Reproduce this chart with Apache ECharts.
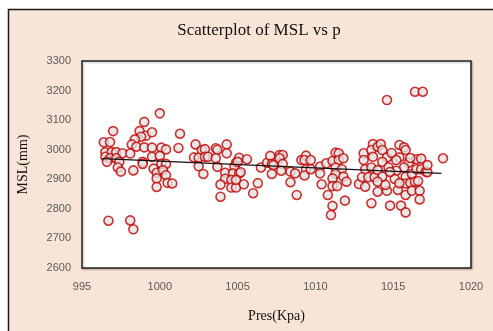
<!DOCTYPE html>
<html>
<head>
<meta charset="utf-8">
<script src="https://cdn.jsdelivr.net/npm/echarts@6/dist/echarts.min.js"></script>
<style>
  html, body { margin: 0; padding: 0; background: #fff; }
  #chart { width: 493px; height: 331px; }
</style>
</head>
<body>
<div id="chart"></div>
<script>
// pressure (Kpa) and mean sea level (mm)
const pres = [
  1000.0, 999.0, 997.0, 998.7, 999.1, 999.5, 998.8, 998.4, 996.4, 996.8,
  998.2, 998.5, 999.0, 999.5, 1000.1, 1000.4, 996.5, 996.9, 997.2, 997.6,
  998.1, 996.5, 996.8, 997.2, 999.5, 1000.0, 996.6, 997.4, 998.9, 998.9,
  1000.1, 1000.4, 997.3, 997.5, 998.3, 999.6, 999.8, 1000.2, 1000.4, 999.8,
  1000.5, 999.8, 996.7, 998.1, 998.3,
  1001.3, 1001.2, 1002.3, 1002.7, 1002.9, 1003.6, 1003.7, 1004.3, 1004.3, 1002.2,
  1002.5, 1002.9, 1003.1, 1003.6, 1002.5, 1002.8, 1003.7, 1000.8, 1004.9, 1004.8,
  1004.2, 1004.7, 1005.1, 1004.2, 1004.6, 1003.9, 1004.6, 1004.9, 1003.9,
  1005.1, 1005.0, 1005.6, 1005.2, 1004.9, 1005.4, 1006.3, 1006.0, 1006.5, 1006.9,
  1007.1, 1007.2, 1007.3, 1007.2, 1007.7, 1007.9, 1007.7, 1007.9, 1007.8, 1008.4,
  1008.7, 1008.4, 1008.8, 1009.1, 1009.4, 1009.3, 1009.4, 1009.3,
  1009.7, 1009.7, 1010.3, 1010.3, 1010.7, 1010.4, 1010.8, 1011.1, 1011.3, 1011.5,
  1011.5, 1011.8, 1011.3, 1011.7, 1011.3, 1011.1, 1011.8, 1012.0, 1011.1, 1011.4,
  1011.9, 1011.1, 1011.0, 1012.8, 1013.1, 1013.1, 1013.2, 1013.0, 1013.2, 1013.7,
  1013.6, 1013.7, 1013.6, 1013.4, 1013.8, 1013.6, 1014.0, 1014.0, 1014.0,
  1016.4, 1016.9, 1014.6, 1014.2, 1014.3, 1014.6, 1014.3, 1014.7, 1014.3, 1014.0,
  1014.6, 1014.8, 1015.4, 1015.7, 1015.8, 1015.4, 1016.0, 1015.7, 1015.2, 1015.1,
  1015.8, 1016.2, 1016.5, 1016.5, 1016.8, 1016.8, 1017.1, 1018.2, 1015.8, 1016.1,
  1016.4, 1016.6, 1015.3, 1015.8, 1016.2, 1016.7, 1016.7, 1015.5, 1015.8, 1017.2,
  1014.9, 1015.2, 1016.1, 1014.8, 1015.4, 1014.5, 1017.2
];
const msl = [
  3123, 3094, 3063, 3063, 3047, 3059, 3044, 3035, 3025, 3026,
  3018, 3010, 3008, 3007, 3007, 3001, 2992, 2992, 2992, 2988,
  2987, 2976, 2971, 2971, 2976, 2979, 2959, 2959, 2959, 2952,
  2952, 2952, 2940, 2926, 2930, 2936, 2922, 2931, 2914, 2903,
  2888, 2874, 2760, 2761, 2731,
  3054, 3006, 3018, 2999, 3002, 3005, 3000, 3018, 2988, 2974,
  2973, 2976, 2976, 2971, 2944, 2918, 2942, 2886, 2956, 2943,
  2922, 2920, 2920, 2902, 2898, 2882, 2872, 2872, 2841,
  2973, 2959, 2968, 2924, 2898, 2883, 2887, 2853, 2940, 2956,
  2979, 2952, 2948, 2918, 2982, 2982, 2971, 2952, 2929, 2926,
  2920, 2890, 2847, 2965, 2980, 2965, 2934, 2913,
  2965, 2934, 2943, 2920, 2954, 2883, 2847, 2962, 2990, 2988,
  2965, 2971, 2940, 2934, 2918, 2903, 2909, 2892, 2877, 2877,
  2828, 2810, 2779, 2884, 2988, 2965, 2934, 2907, 2875, 3019,
  2999, 2976, 2940, 2907, 2907, 2819, 3010, 2931, 2858,
  3196, 3196, 3168, 3019, 2999, 2974, 2959, 2940, 2909, 2892,
  2861, 2811, 3016, 3008, 2999, 2974, 2956, 2940, 2929, 2901,
  2909, 2918, 2934, 2968, 2970, 2934, 2926, 2971, 2886, 2888,
  2892, 2894, 2864, 2847, 2861, 2861, 2832, 2811, 2788, 2924,
  2989, 2965, 2972, 2925, 2887, 2881, 2948
];

// linear trendline endpoints
const trendPres = [996.3, 1018.1];
const trendMsl = [2970, 2920];

const xTicks = [995, 1000, 1005, 1010, 1015, 1020];
const yTicks = [2600, 2700, 2800, 2900, 3000, 3100, 3200, 3300];

const points = pres.map((p, i) => [p, msl[i]]);
const trend = trendPres.map((p, i) => [p, trendMsl[i]]);

const chart = echarts.init(document.getElementById('chart'));

const tickLabel = {
  color: '#595959',
  fontSize: 11,
  fontFamily: 'Liberation Sans, Arial, sans-serif',
  formatter: v => String(v),
};

chart.setOption({
  backgroundColor: '#ffffff',
  animation: false,
  graphic: [
    {
      type: 'rect',
      z: -10,
      silent: true,
      shape: { x: 8.5, y: 9.5, width: 500, height: 340 },
      style: { fill: '#F9E4D8', stroke: '#1a1a1a', lineWidth: 1.5 },
    },
  ],
  title: {
    text: 'Scatterplot of MSL vs p',
    left: 254,
    top: 17,
    textAlign: 'center',
    textStyle: {
      fontFamily: 'Liberation Serif, Times New Roman, serif',
      fontWeight: 'normal',
      fontSize: 17,
      color: '#111',
    },
  },
  grid: {
    left: 82,
    right: 22,
    top: 61,
    bottom: 63,
    show: true,
    backgroundColor: '#ffffff',
    borderColor: '#222',
    borderWidth: 1.5,
    shadowColor: 'rgba(0,0,0,0.25)',
    shadowBlur: 2,
    shadowOffsetX: 1,
    shadowOffsetY: 1,
  },
  xAxis: {
    type: 'value',
    min: xTicks[0],
    max: xTicks[xTicks.length - 1],
    interval: 5,
    name: 'Pres(Kpa)',
    nameLocation: 'middle',
    nameGap: 41,
    nameTextStyle: {
      fontFamily: 'Liberation Serif, Times New Roman, serif',
      fontSize: 14,
      color: '#111',
    },
    axisLine: { show: false },
    axisTick: { show: false },
    splitLine: { show: false },
    axisLabel: { ...tickLabel, margin: 13 },
  },
  yAxis: {
    type: 'value',
    min: yTicks[0],
    max: yTicks[yTicks.length - 1],
    interval: 100,
    name: 'MSL(mm)',
    nameLocation: 'middle',
    nameGap: 52,
    nameTextStyle: {
      fontFamily: 'Liberation Serif, Times New Roman, serif',
      fontSize: 14,
      color: '#111',
    },
    axisLine: { show: false },
    axisTick: { show: false },
    splitLine: { show: false },
    axisLabel: { ...tickLabel, margin: 11 },
  },
  series: [
    {
      type: 'scatter',
      name: 'MSL',
      data: points,
      symbol: 'circle',
      symbolSize: 9,
      itemStyle: {
        color: '#E4E4E4',
        borderColor: '#C00000',
        borderWidth: 1.6,
      },
    },
    {
      type: 'line',
      name: 'Linear',
      data: trend,
      symbol: 'none',
      lineStyle: { color: '#111', width: 1.4 },
      z: 3,
    },
  ],
});
</script>
</body>
</html>
